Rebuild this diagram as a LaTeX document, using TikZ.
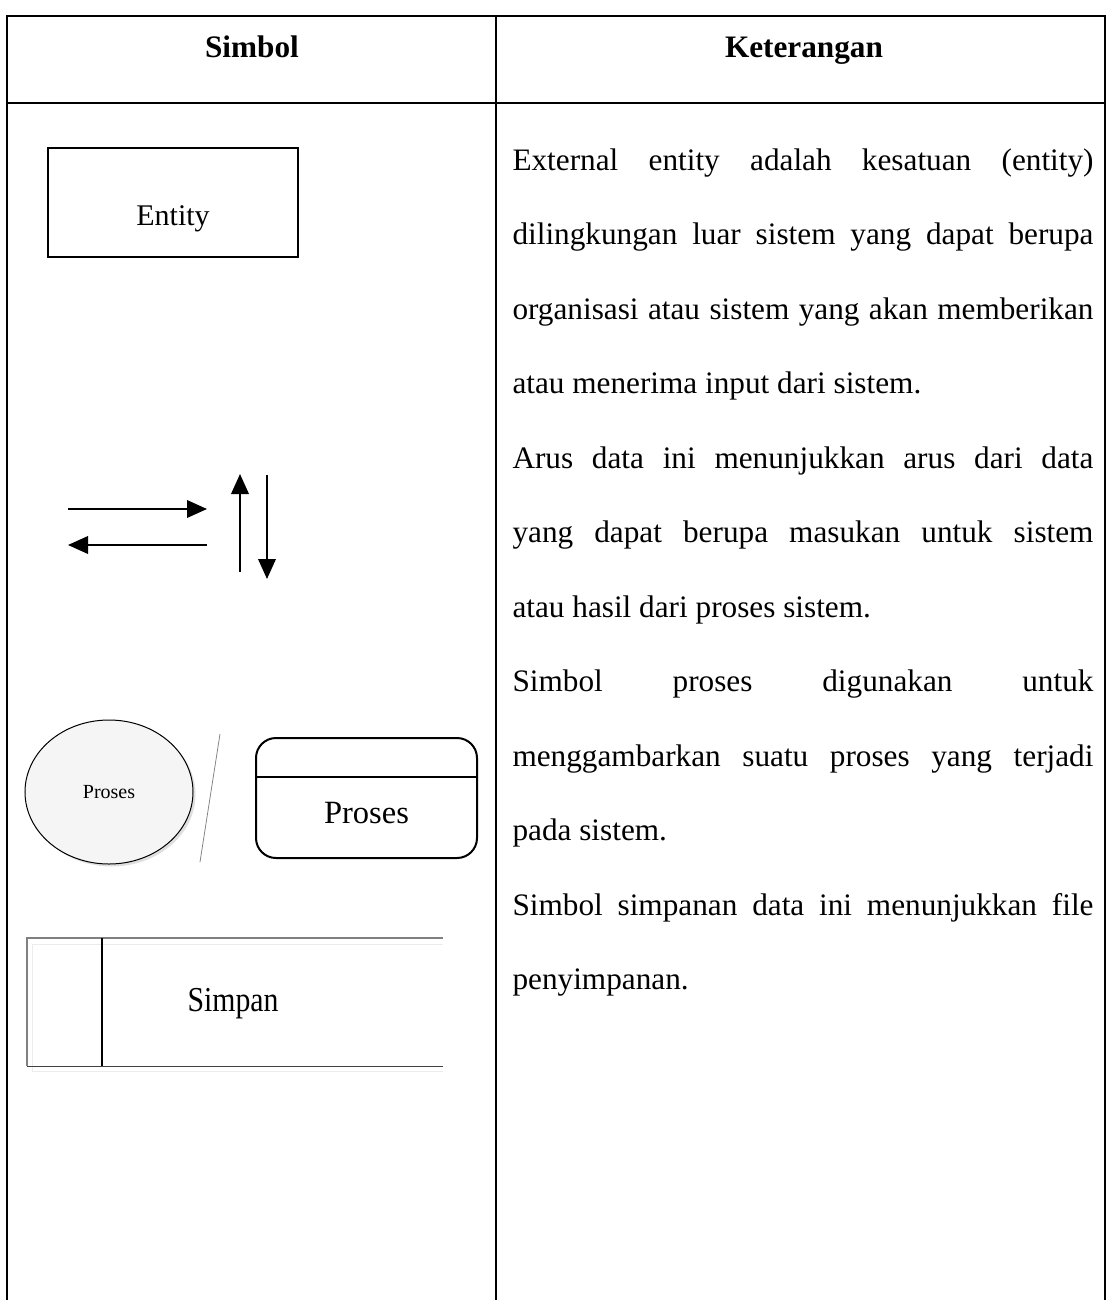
\documentclass[tikz,border=0pt]{standalone}
\usepackage{fontspec}
\setmainfont{Liberation Serif}
\usetikzlibrary{arrows.meta,shapes.geometric,shadows}
\begin{document}
\begin{tikzpicture}[x=0.4pt,y=-0.4pt,
  garis/.style={line width=0.8pt},
  panah/.style={line width=0.8pt,-{Triangle[length=8pt,width=7pt]}},
  judul/.style={anchor=base,font=\bfseries\fontsize{12.5}{14}\selectfont},
  teks/.style={anchor=north west,text width=232.4pt,align=justify,inner sep=0pt,
    font=\fontsize{12.5}{29.8}\selectfont}]
\useasboundingbox (0,0) rectangle (1109,1300);
% tabel
\draw[garis] (7,1300) -- (7,16) -- (1105,16) -- (1105,1300);
\draw[garis] (7,103) -- (1105,103);
\draw[garis] (496,16) -- (496,1300);
\node[judul] (simbol) at (252,57) {Simbol};
\node[judul] (keterangan) at (804,57) {Keterangan};

% entity
\node[draw,line width=0.6pt,minimum width=100pt,minimum height=43.6pt,inner sep=0pt] (entity) at (173,202.5) {};
\node[font=\fontsize{12}{14}\selectfont] (entitylbl) at ([yshift=-6.5pt]entity.center) {Entity};

% arus data
\coordinate (kanan1) at (68,509);
\coordinate (kanan2) at (207,509);
\coordinate (kiri1) at (207,545);
\coordinate (kiri2) at (68,545);
\coordinate (naik1) at (240,572);
\coordinate (naik2) at (240,474);
\coordinate (turun1) at (267,475);
\coordinate (turun2) at (267,579);
\draw[panah] (kanan1) -- (kanan2);
\draw[panah] (kiri1) -- (kiri2);
\draw[panah] (naik1) -- (naik2);
\draw[panah] (turun1) -- (turun2);

% proses
\node[ellipse,draw,line width=0.4pt,fill=gray!8,minimum width=67.2pt,minimum height=57.6pt,inner sep=0pt,
  drop shadow={shadow xshift=1pt,shadow yshift=-1pt,opacity=0.25}] (proses1) at (109,792) {\fontsize{8}{10}\selectfont Proses};
\coordinate (garing1) at (220,734);
\coordinate (garing2) at (200,862);
\draw[gray,line width=0.3pt] (garing1) -- (garing2);
\node[draw,line width=0.8pt,rounded corners=8pt,minimum width=88.4pt,minimum height=48pt,inner sep=0pt] (proses2) at (366.5,798) {};
\draw[line width=0.8pt] ([yshift=-16pt]proses2.north west) -- ([yshift=-16pt]proses2.north east);
\node[font=\fontsize{13}{15}\selectfont] (proses2lbl) at ([yshift=-6pt]proses2.center) {Proses};

% simpan
\coordinate (sa) at (27,938);
\coordinate (sb) at (443,938);
\coordinate (sc) at (27,1066);
\coordinate (sd) at (443,1066);
\draw[gray!15,line width=0.4pt] (443,944) -- (32,944) -- (32,1071) -- (443,1071);
\draw[gray,line width=0.6pt] (sb) -- (sa) -- (sc);
\draw[black!75,line width=0.4pt] (sc) -- (sd);
\draw[line width=0.9pt] (102,938) -- (102,1066);
\node[font=\fontsize{14}{16}\selectfont] (simpan) at (233,1004) {\scalebox{0.85}[1]{Simpan}};

% keterangan
\node[teks] (isi) at (512,148) {%
External entity adalah kesatuan (entity) \linebreak dilingkungan luar sistem yang dapat berupa \linebreak organisasi atau sistem yang akan memberikan \linebreak atau menerima input dari sistem.\par
Arus data ini menunjukkan arus dari data \linebreak yang dapat berupa masukan untuk sistem \linebreak atau hasil dari proses sistem.\par
Simbol proses digunakan untuk \linebreak menggambarkan suatu proses yang terjadi \linebreak pada sistem.\par
Simbol simpanan data ini menunjukkan file \linebreak penyimpanan.};
\end{tikzpicture}
\end{document}
